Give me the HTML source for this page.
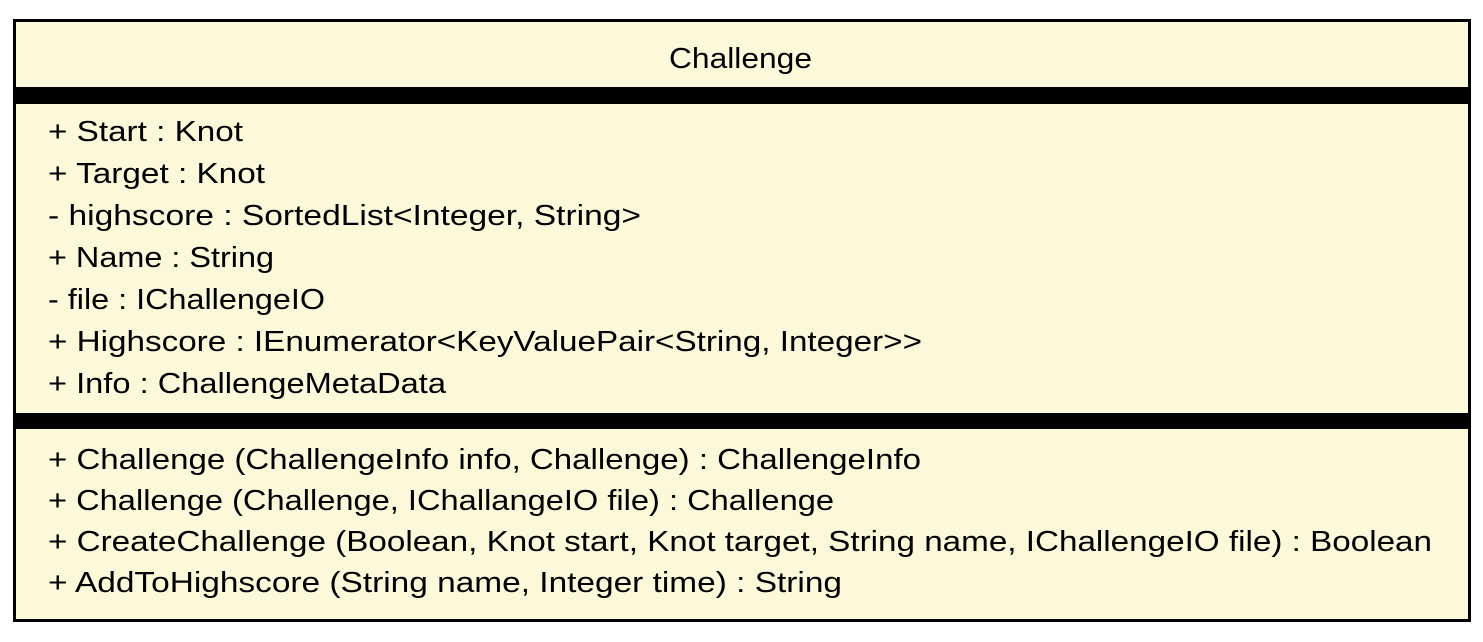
<!DOCTYPE html>
<html><head><meta charset="utf-8"><style>html,body{margin:0;padding:0;background:#fff;}svg{display:block}</style></head>
<body>
<svg width="1483" height="642" xmlns="http://www.w3.org/2000/svg" font-family="Liberation Sans, Arial, sans-serif" font-size="29" fill="#000">
<rect x="14.5" y="20.5" width="1455" height="600" fill="#FBF9DA" stroke="#000" stroke-width="3"/>
<rect x="14" y="87" width="1456" height="17" fill="#000"/>
<rect x="14" y="413" width="1456" height="16" fill="#000"/>
<text x="669" y="68" textLength="143" lengthAdjust="spacingAndGlyphs">Challenge</text>
<g>
<text x="48" y="141" textLength="195" lengthAdjust="spacingAndGlyphs">+ Start : Knot</text>
<text x="48" y="183" textLength="217" lengthAdjust="spacingAndGlyphs">+ Target : Knot</text>
<text x="48" y="225" textLength="593" lengthAdjust="spacingAndGlyphs">- highscore : SortedList&lt;Integer, String&gt;</text>
<text x="48" y="267" textLength="226" lengthAdjust="spacingAndGlyphs">+ Name : String</text>
<text x="48" y="309" textLength="277" lengthAdjust="spacingAndGlyphs">- file : IChallengeIO</text>
<text x="48" y="351" textLength="874" lengthAdjust="spacingAndGlyphs">+ Highscore : IEnumerator&lt;KeyValuePair&lt;String, Integer&gt;&gt;</text>
<text x="48" y="393" textLength="398" lengthAdjust="spacingAndGlyphs">+ Info : ChallengeMetaData</text>
<text x="48" y="469" textLength="873" lengthAdjust="spacingAndGlyphs">+ Challenge (ChallengeInfo info, Challenge) : ChallengeInfo</text>
<text x="48" y="510" textLength="786" lengthAdjust="spacingAndGlyphs">+ Challenge (Challenge, IChallangeIO file) : Challenge</text>
<text x="48" y="551" textLength="1384" lengthAdjust="spacingAndGlyphs">+ CreateChallenge (Boolean, Knot start, Knot target, String name, IChallengeIO file) : Boolean</text>
<text x="48" y="592" textLength="794" lengthAdjust="spacingAndGlyphs">+ AddToHighscore (String name, Integer time) : String</text>
</g>
</svg>
</body></html>
